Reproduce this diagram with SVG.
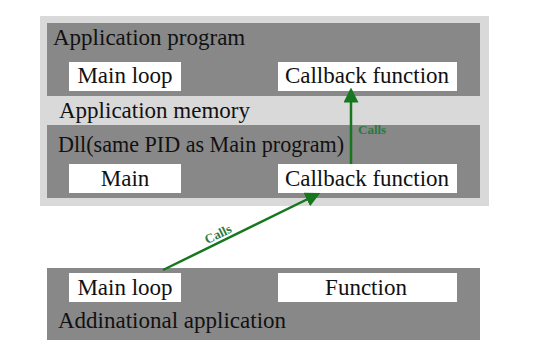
<svg xmlns="http://www.w3.org/2000/svg" width="540" height="361" viewBox="0 0 540 361">
<style>
.dark{fill:#888888}
.light{fill:#d9d9d9}
.box{fill:#ffffff}
.t{font-family:"Liberation Serif","Times New Roman",serif;font-size:23px;fill:#111111}
.c{text-anchor:middle}
.lbl{font-family:"Liberation Serif","Times New Roman",serif;font-size:13px;font-weight:bold;fill:#2a7a3e}
.conn{stroke:#17771f;stroke-width:2.5;fill:none}
</style>
<defs>
<marker id="ah" markerWidth="6" markerHeight="6" refX="5" refY="3" orient="auto" markerUnits="strokeWidth">
<path d="M0,0 L6,3 L0,6 Z" fill="#17771f"/>
</marker>
</defs>
<rect width="540" height="361" fill="#ffffff"/>
<g id="application-memory">
<rect class="light" x="40" y="16" width="449" height="190"/>
<text class="t" x="59" y="118">Application memory</text>
</g>
<g id="application-program">
<rect class="dark" x="47" y="23" width="433" height="73"/>
<text class="t" x="53" y="45">Application program</text>
</g>
<g id="ap-main-loop">
<rect class="box" x="69" y="62" width="112" height="29"/>
<text class="t c" x="125" y="83">Main loop</text>
</g>
<g id="ap-callback">
<rect class="box" x="278" y="62" width="179" height="29"/>
<text class="t c" x="367" y="83">Callback function</text>
</g>
<g id="dll">
<rect class="dark" x="47" y="125" width="433" height="73"/>
<text class="t" x="58" y="152" textLength="286" lengthAdjust="spacingAndGlyphs">Dll(same PID as Main program)</text>
</g>
<g id="dll-main">
<rect class="box" x="69" y="164" width="112" height="29"/>
<text class="t c" x="125" y="186">Main</text>
</g>
<g id="dll-callback">
<rect class="box" x="278" y="164" width="179" height="29"/>
<text class="t c" x="367" y="186">Callback function</text>
</g>
<g id="additional-application">
<rect class="dark" x="47" y="268" width="433" height="72"/>
<text class="t" x="58" y="328">Addinational application</text>
</g>
<g id="aa-main-loop">
<rect class="box" x="69" y="273" width="112" height="29"/>
<text class="t c" x="125" y="295">Main loop</text>
</g>
<g id="aa-function">
<rect class="box" x="278" y="273" width="179" height="29"/>
<text class="t c" x="366" y="295">Function</text>
</g>
<g id="connectors">
<line class="conn" x1="351" y1="164" x2="351" y2="90" marker-end="url(#ah)"/>
<text class="lbl" x="358" y="134">Calls</text>
<line class="conn" x1="163" y1="270" x2="318" y2="194" marker-end="url(#ah)"/>
<text class="lbl" x="220" y="238" text-anchor="middle" transform="rotate(-26 220 238)">Calls</text>
</g>
</svg>
